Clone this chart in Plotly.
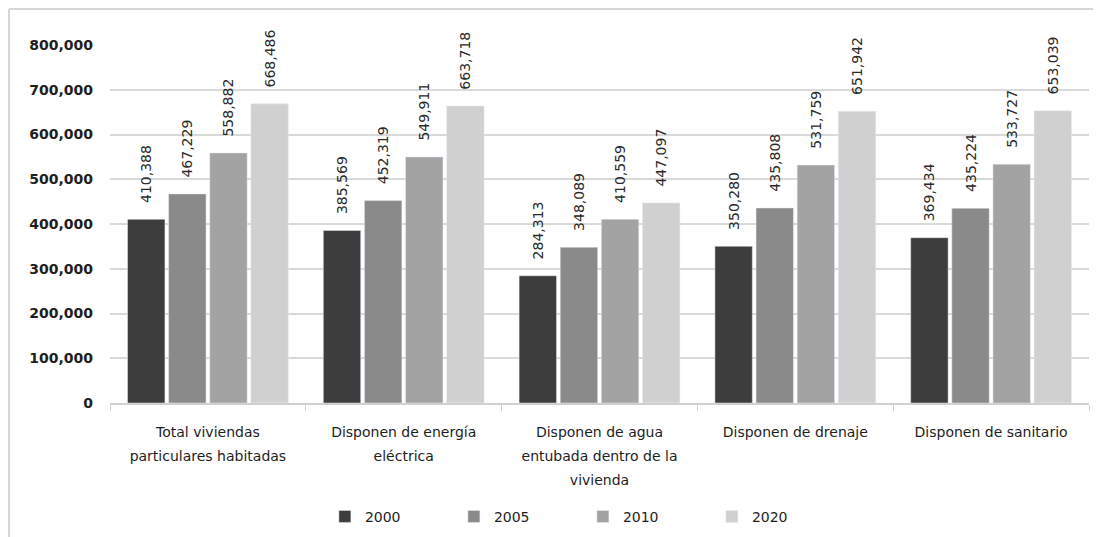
import plotly.graph_objects as go

categories = [
    "Total viviendas<br>particulares habitadas",
    "Disponen de energía<br>eléctrica",
    "Disponen de agua<br>entubada dentro de la<br>vivienda",
    "Disponen de drenaje",
    "Disponen de sanitario",
]
years = ["2000", "2005", "2010", "2020"]
v2000 = [410388, 385569, 284313, 350280, 369434]
v2005 = [467229, 452319, 348089, 435808, 435224]
v2010 = [558882, 549911, 410559, 531759, 533727]
v2020 = [668486, 663718, 447097, 651942, 653039]
series = [v2000, v2005, v2010, v2020]
colors = ["#3d3d3d", "#8a8a8a", "#a3a3a3", "#d0d0d0"]

FONT = "DejaVu Sans"
PAD = "\u00a0\u00a0\u00a0"

fig = go.Figure()
for name, vals, col in zip(years, series, colors):
    fig.add_trace(go.Bar(
        x=categories, y=vals, name=name, marker_color=col,
        text=[PAD + f"{v:,}" for v in vals], textposition="outside",
        textangle=-90, cliponaxis=False, constraintext="none",
        textfont=dict(size=14, color="#2a2a2a", family=FONT),
    ))

ticktext = ["<br>".join(f'<span style="font-size:14px">{p}</span>' for p in c.split("<br>"))
            for c in categories]

fig.update_layout(
    width=1093, height=529,
    margin=dict(l=102, r=12, t=37, b=134, autoexpand=False),
    paper_bgcolor="white", plot_bgcolor="white",
    barmode="group", bargap=0.16, bargroupgap=0.09,
    font=dict(family=FONT, size=14, color="#1e1e1e"),
    legend=dict(orientation="h", x=0.2195, xanchor="left", y=-0.318, yanchor="middle",
                entrywidth=84, font=dict(size=14, color="#1e1e1e", family=FONT),
                traceorder="normal"),
    separators=".,",
    shapes=[
        dict(type="line", xref="paper", yref="paper", x0=-0.1032, x1=1.05, y0=1.1006, y1=1.1006,
             line=dict(color="#d6d6d6", width=2)),
        dict(type="line", xref="paper", yref="paper", x0=-0.1032, x1=-0.1032, y0=1.1006, y1=-0.5,
             line=dict(color="#d6d6d6", width=2)),
    ],
)
fig.update_yaxes(range=[0, 800000], dtick=100000, tickformat=",d",
                 gridcolor="#d9d9d9", gridwidth=2, zeroline=False,
                 showline=False, ticks="", ticklabelstandoff=16,
                 tickfont=dict(size=14, color="#1e1e1e", family=FONT, weight="bold"))
fig.update_xaxes(showline=True, linecolor="#d0d0d0", linewidth=2,
                 ticks="outside", tickson="boundaries", ticklen=6, tickcolor="#d0d0d0",
                 tickmode="array", tickvals=categories, ticktext=ticktext,
                 ticklabelstandoff=10,
                 tickfont=dict(size=18.5, color="#1e1e1e", family=FONT))

fig.write_html("out.html")
